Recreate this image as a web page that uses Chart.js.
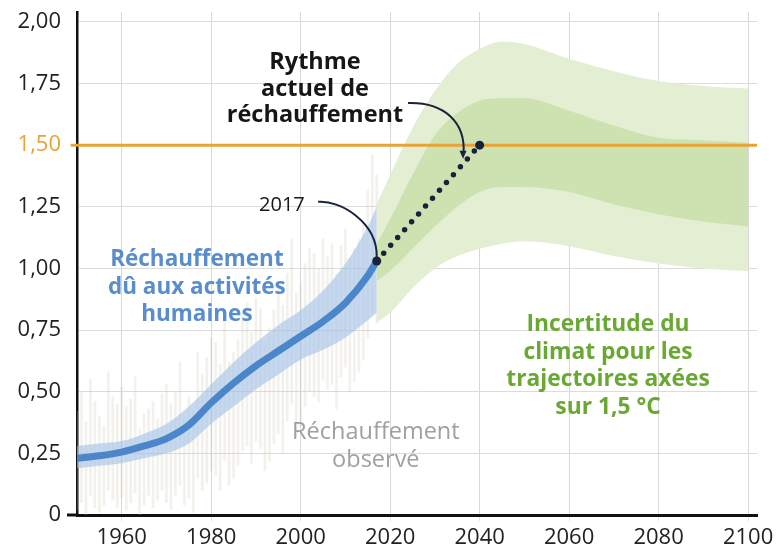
<!DOCTYPE html>
<html lang="fr">
<head>
    <meta charset="UTF-8">
    <title>Réchauffement 1,5 °C</title>
    <style>
        body {
            margin: 0;
            background: #fff;
        }
        #chart {
            display: block;
        }
    </style>
    <script src="https://cdn.jsdelivr.net/npm/chart.js"></script>
</head>
<body>
    <canvas id="chart" width="777" height="555"></canvas>

    <script>
        // tick labels
        const yTicks = [0, 0.25, 0.5, 0.75, 1, 1.25, 1.5, 1.75, 2];
        const xTicks = [1960, 1980, 2000, 2020, 2040, 2060, 2080, 2100];

        // observed warming (yearly range of the monthly values)
        const obsYears = [];
        for (let y = 1950; y <= 2017; y++) obsYears.push(y);
        const obsLow = [
            0.02, 0.05, 0.00, 0.08, 0.03, 0.01, 0.04, 0.10, 0.06, 0.03,
            0.07, 0.02, 0.05, 0.09, 0.00, 0.04, 0.08, 0.03, 0.06, 0.10,
            0.05, 0.02, 0.08, 0.12, 0.04, 0.07, 0.01, 0.15, 0.10, 0.13,
            0.18, 0.16, 0.10, 0.22, 0.12, 0.15, 0.20, 0.26, 0.28, 0.21,
            0.30, 0.27, 0.18, 0.22, 0.29, 0.33, 0.25, 0.38, 0.45, 0.32,
            0.36, 0.44, 0.50, 0.48, 0.46, 0.55, 0.51, 0.53, 0.43, 0.56,
            0.60, 0.50, 0.54, 0.58, 0.63, 0.72, 0.82, 0.78
        ];
        const obsHigh = [
            0.42, 0.50, 0.38, 0.55, 0.46, 0.40, 0.36, 0.58, 0.48, 0.45,
            0.52, 0.44, 0.47, 0.56, 0.35, 0.41, 0.43, 0.46, 0.39, 0.49,
            0.53, 0.45, 0.50, 0.62, 0.40, 0.48, 0.42, 0.66, 0.57, 0.64,
            0.72, 0.70, 0.61, 0.80, 0.62, 0.66, 0.71, 0.82, 0.86, 0.74,
            0.88, 0.84, 0.70, 0.76, 0.83, 0.92, 0.85, 0.98, 1.12, 0.90,
            0.94, 1.02, 1.08, 1.06, 1.00, 1.12, 1.05, 1.10, 0.98, 1.09,
            1.16, 1.04, 1.08, 1.12, 1.18, 1.32, 1.46, 1.38
        ];

        // human-induced warming
        const humanYears = [1950, 1955, 1960, 1965, 1970, 1975, 1980, 1985, 1990, 1995, 2000, 2005, 2010, 2015, 2017];
        const humanMid   = [0.23, 0.24, 0.255, 0.28, 0.31, 0.365, 0.455, 0.535, 0.605, 0.665, 0.725, 0.785, 0.86, 0.97, 1.03];
        const humanHigh  = [0.28, 0.29, 0.30, 0.33, 0.37, 0.44, 0.53, 0.62, 0.70, 0.77, 0.83, 0.91, 1.02, 1.17, 1.25];
        const humanLow   = [0.19, 0.20, 0.21, 0.23, 0.25, 0.29, 0.37, 0.44, 0.51, 0.57, 0.63, 0.67, 0.72, 0.79, 0.82];

        // 1.5 °C pathways uncertainty
        const pathYears  = [2017, 2020, 2025, 2030, 2035, 2040, 2045, 2050, 2060, 2070, 2080, 2090, 2100];
        const outerHigh  = [1.26, 1.38, 1.57, 1.72, 1.83, 1.89, 1.92, 1.91, 1.85, 1.80, 1.76, 1.74, 1.73];
        const innerHigh  = [1.10, 1.20, 1.38, 1.54, 1.63, 1.68, 1.69, 1.69, 1.64, 1.58, 1.53, 1.52, 1.51];
        const innerLow   = [0.95, 0.99, 1.08, 1.17, 1.25, 1.31, 1.33, 1.33, 1.31, 1.26, 1.22, 1.19, 1.17];
        const outerLow   = [0.78, 0.82, 0.92, 1.00, 1.05, 1.08, 1.10, 1.11, 1.09, 1.05, 1.02, 1.00, 0.99];

        // current rate of warming
        const trendYears  = [2017, 2040];
        const trendValues = [1.03, 1.5];

        // 1.5 °C threshold
        const thresholdYears = [1948.6, 2102];
        const thresholdValue = 1.5;

        const ORANGE = '#e9a235';
        const NAVY = '#18223d';

        const pts = (xs, ys) => xs.map((x, i) => ({ x: x, y: ys[i] }));
        const smooth = { tension: 0.4, cubicInterpolationMode: 'monotone', pointRadius: 0 };

        // text labels and connectors
        const labelsPlugin = {
            id: 'labels',
            afterDatasetsDraw(chart) {
                const ctx = chart.ctx;
                const xs = chart.scales.x, ys = chart.scales.y;
                const P = (x, y) => [xs.getPixelForValue(x), ys.getPixelForValue(y)];

                function block(lines, x, y, font, color, lh) {
                    const p = P(x, y);
                    ctx.save();
                    ctx.font = font;
                    ctx.fillStyle = color;
                    ctx.textAlign = 'center';
                    ctx.textBaseline = 'middle';
                    lines.forEach((t, i) => ctx.fillText(t, p[0], p[1] + i * lh));
                    ctx.restore();
                }

                block(['Rythme', 'actuel de', 'réchauffement'], 2003.2, 1.834, 'bold 23.5px "Open Sans"', '#161616', 26.5);
                block(['2017'], 1995.8, 1.258, '20px "Open Sans"', '#161616', 0);
                block(['Réchauffement', 'dû aux activités', 'humaines'], 1976.8, 1.034, 'bold 22.5px "Open Sans"', '#5a8dcc', 27.5);
                block(['Réchauffement', 'observé'], 2016.8, 0.337, '23.5px "Open Sans"', '#a0a0a0', 28);
                block(['Incertitude du', 'climat pour les', 'trajectoires axées', 'sur 1,5 °C'], 2068.7, 0.771, 'bold 22.8px "Open Sans"', '#6aa834', 27.5);

                ctx.save();
                ctx.strokeStyle = NAVY;
                ctx.lineWidth = 2;
                // 2017 connector
                let a = P(2003.9, 1.27), c1 = P(2008.6, 1.278), c2 = P(2017.2, 1.19), b = P(2017, 1.045);
                ctx.beginPath();
                ctx.moveTo(a[0], a[1]);
                ctx.bezierCurveTo(c1[0], c1[1], c2[0], c2[1], b[0], b[1]);
                ctx.stroke();
                // rythme connector with arrow
                a = P(2024.0, 1.671); c1 = P(2032.3, 1.675); c2 = P(2036.9, 1.59); b = P(2036.4, 1.465);
                ctx.beginPath();
                ctx.moveTo(a[0], a[1]);
                ctx.bezierCurveTo(c1[0], c1[1], c2[0], c2[1], b[0], b[1]);
                ctx.stroke();
                ctx.fillStyle = NAVY;
                ctx.beginPath();
                ctx.moveTo(b[0] - 4, b[1] - 3);
                ctx.lineTo(b[0] + 3, b[1] - 3);
                ctx.lineTo(b[0] - 0.5, b[1] + 5);
                ctx.closePath();
                ctx.fill();
                ctx.restore();
            },
            afterDraw(chart) {
                // little stub of the x axis left of the y axis
                const ctx = chart.ctx;
                const area = chart.chartArea;
                ctx.save();
                ctx.strokeStyle = '#111';
                ctx.lineWidth = 3;
                ctx.beginPath();
                ctx.moveTo(area.left - 10, area.bottom);
                ctx.lineTo(area.left, area.bottom);
                ctx.stroke();
                ctx.restore();
            }
        };

        new Chart(document.getElementById('chart'), {
            type: 'line',
            data: {
                datasets: [
                    {
                        data: pts(pathYears, outerHigh), ...smooth,
                        borderWidth: 0, fill: '+1', backgroundColor: '#e3eed2', order: 6
                    },
                    {
                        data: pts(pathYears, outerLow), ...smooth,
                        borderWidth: 0, fill: false, order: 6
                    },
                    {
                        data: pts(pathYears, innerHigh), ...smooth,
                        borderWidth: 0, fill: '+1', backgroundColor: '#cee2b1', order: 5
                    },
                    {
                        data: pts(pathYears, innerLow), ...smooth,
                        borderWidth: 0, fill: false, order: 5
                    },
                    {
                        type: 'bar',
                        data: obsYears.map((y, i) => ({ x: y, y: [obsLow[i], obsHigh[i]] })),
                        backgroundColor: 'rgba(205,198,178,0.25)',
                        barThickness: 2,
                        order: 7
                    },
                    {
                        data: pts(humanYears, humanHigh), ...smooth,
                        borderWidth: 0, fill: '+1', backgroundColor: 'rgba(160,192,230,0.6)', order: 3
                    },
                    {
                        data: pts(humanYears, humanLow), ...smooth,
                        borderWidth: 0, fill: false, order: 3
                    },
                    {
                        data: pts(humanYears, humanMid), ...smooth,
                        borderColor: '#4a86c9', borderWidth: 7, borderCapStyle: 'round',
                        fill: false, order: 2
                    },
                    {
                        data: pts(thresholdYears, [thresholdValue, thresholdValue]),
                        borderColor: ORANGE, borderWidth: 3, pointRadius: 0,
                        fill: false, clip: false, order: 1.5
                    },
                    {
                        data: pts(trendYears, trendValues),
                        borderColor: NAVY, borderWidth: 5.5, borderDash: [0, 10.5],
                        borderCapStyle: 'round', fill: false,
                        pointRadius: 4.5, pointBackgroundColor: NAVY, pointBorderWidth: 0,
                        order: 1
                    }
                ]
            },
            options: {
                responsive: false,
                devicePixelRatio: 1,
                animation: false,
                events: [],
                layout: { padding: { top: 12, right: 20, left: 0, bottom: 0 } },
                plugins: {
                    legend: { display: false },
                    tooltip: { enabled: false }
                },
                scales: {
                    x: {
                        type: 'linear',
                        offset: false,
                        min: 1950,
                        max: 2102,
                        afterBuildTicks: s => { s.ticks = xTicks.map(v => ({ value: v })); },
                        afterFit: s => { s.height = 40; s.paddingLeft = 0; s.paddingRight = 0; },
                        grid: { offset: false, color: '#d8d8d8', lineWidth: 1, tickLength: 6, tickColor: '#e2e2e2' },
                        border: { display: true, color: '#111', width: 3 },
                        ticks: {
                            color: '#222',
                            padding: 4,
                            maxRotation: 0,
                            font: { family: 'Open Sans', size: 22 },
                            callback: v => String(v)
                        }
                    },
                    y: {
                        min: 0,
                        max: 2.04,
                        afterBuildTicks: s => { s.ticks = yTicks.map(v => ({ value: v })); },
                        afterFit: s => { s.width = 77; s.paddingTop = 0; s.paddingBottom = 0; },
                        grid: { color: '#dcdcdc', lineWidth: 1, drawTicks: false },
                        border: { display: true, color: '#111', width: 2.5 },
                        ticks: {
                            padding: 16,
                            font: { family: 'Open Sans', size: 22 },
                            color: c => c.tick.value === 1.5 ? ORANGE : '#222',
                            callback: v => v === 0 ? '0' : v.toFixed(2).replace('.', ',')
                        }
                    }
                }
            },
            plugins: [labelsPlugin]
        });
    </script>
</body>
</html>
